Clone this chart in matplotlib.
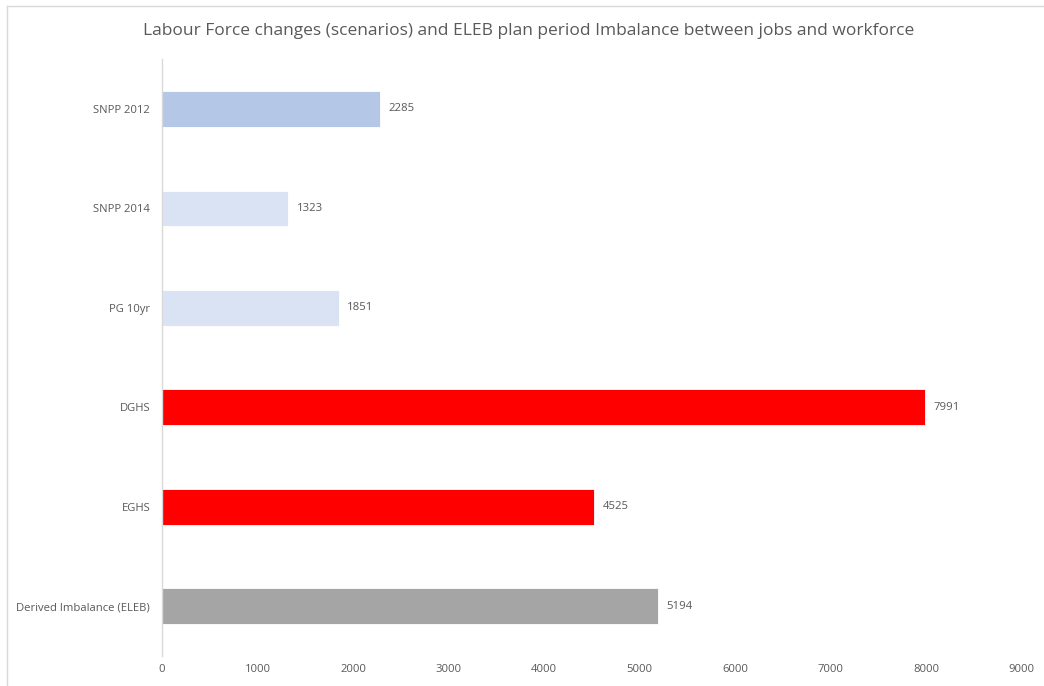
import matplotlib.pyplot as plt
from matplotlib.lines import Line2D

plt.rcParams['font.family'] = ['Open Sans', 'DejaVu Sans']

# scenarios, top to bottom
labels = ["SNPP 2012", "SNPP 2014", "PG 10yr", "DGHS", "EGHS", "Derived Imbalance (ELEB)"]
values = [2285, 1323, 1851, 7991, 4525, 5194]
colors = ["#B4C7E7", "#DAE3F3", "#DAE3F3", "#FF0000", "#FF0000", "#A5A5A5"]
xticks = [0, 1000, 2000, 3000, 4000, 5000, 6000, 7000, 8000, 9000]

text_col = "#595959"

fig = plt.figure(figsize=(10.44, 6.86), dpi=100)
ax = fig.add_axes([0.1552, 0.0437, 0.8235, 0.870])

ypos = list(range(len(labels)))
bars = ax.barh(ypos, values, height=0.36, color=colors, edgecolor="white", linewidth=0.6)

for y, v in zip(ypos, values):
    ax.annotate(str(v), xy=(v, y), xytext=(6, 0), textcoords="offset points",
                ha="left", va="center", fontsize=8.2, color=text_col)

ax.set_xlim(0, 9000)
ax.set_ylim(len(labels) - 0.5, -0.5)
ax.set_yticks(ypos)
ax.set_yticklabels(labels)
ax.set_xticks(xticks)
ax.tick_params(axis="both", length=0, labelsize=8.1, colors=text_col)
ax.tick_params(axis="y", pad=8.5)
ax.tick_params(axis="x", pad=6)

for side in ["top", "right", "bottom"]:
    ax.spines[side].set_visible(False)
ax.spines["left"].set_color("#D9D9D9")
ax.spines["left"].set_linewidth(1.0)

fig.text(0.506, 0.955, "Labour Force changes (scenarios) and ELEB plan period Imbalance between jobs and workforce",
         ha="center", va="center", fontsize=12.5, color=text_col)

# light frame along the top and left edges
fig.add_artist(Line2D([7 / 1044, 1.0], [1 - 6 / 686, 1 - 6 / 686], transform=fig.transFigure,
                      color="#D9D9D9", linewidth=1))
fig.add_artist(Line2D([7 / 1044, 7 / 1044], [0.0, 1 - 6 / 686], transform=fig.transFigure,
                      color="#D9D9D9", linewidth=1))

fig.savefig("out.png", dpi=100)
